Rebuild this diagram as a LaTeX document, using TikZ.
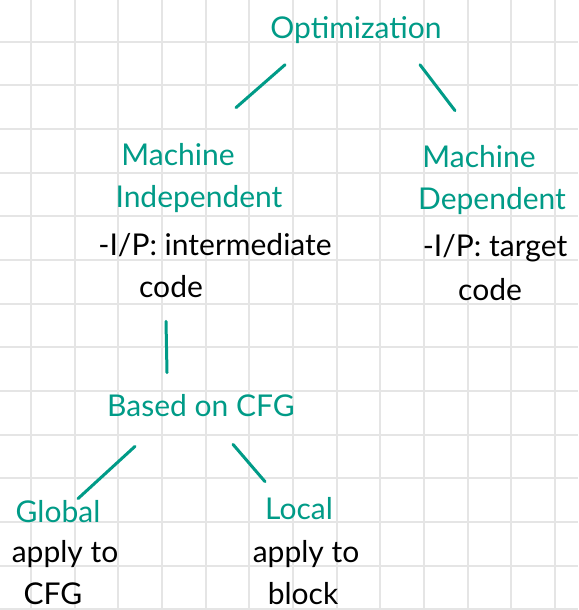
\documentclass[tikz,border=0pt]{standalone}
\usepackage{fontspec}
\setmainfont{Lato}
\usetikzlibrary{calc}
\definecolor{teal1}{RGB}{0,155,135}
\definecolor{gridc}{RGB}{229,229,229}
\tikzset{
  head/.style={text=teal1, inner sep=0pt, font=\fontsize{30}{32}\selectfont},
  body/.style={text=black, inner sep=0pt, font=\fontsize{30}{32}\selectfont},
  link/.style={draw=teal1, line width=3pt, line cap=round},
  gridline/.style={draw=gridc, line width=2pt}
}
\begin{document}
\begin{tikzpicture}[x=1pt,y=-1pt]
\useasboundingbox (0,0) rectangle (578,610);
\fill[white] (0,0) rectangle (578,610);
\foreach \i in {0,...,12} {\draw[gridline] ({31+43.65*\i},0) -- ({31+43.65*\i},610);}
\foreach \j in {0,...,13} {\draw[gridline] (0,{41.7+43.65*\j}) -- (578,{41.7+43.65*\j});}

\node[head] (opt) at (356,30) {Optimization};
\node[head] (mi1) at (178,155) {Machine};
\node[head] (mi2) at (199,199) {Independent};
\node[body] (mi3) at (215,245) {-I/P: intermediate};
\node[body] (mi4) at (171,287) {code};
\node[head] (md1) at (479,157) {Machine};
\node[head] (md2) at (492,201) {Dependent};
\node[body] (md3) at (495,248) {-I/P: target};
\node[body] (md4) at (490,290) {code};
\node[head] (cfg) at (201,406) {Based on CFG};
\node[head] (gl1) at (58,512) {Global};
\node[body] (gl2) at (65,554) {apply to};
\node[body] (gl3) at (53,594) {CFG};
\node[head] (lo1) at (299,509) {Local};
\node[body] (lo2) at (306,554) {apply to};
\node[body] (lo3) at (303,594) {block};

\draw[link] ($(opt.south)+(-71,21)$) -- ($(mi1.north)+(58,-36)$);
\draw[link] ($(opt.south)+(64,21)$) -- ($(md1.north)+(-24,-35)$);
\draw[link] ($(mi4.south)+(-5,23)$) -- ($(cfg.north)+(-34,-22)$);
\draw[link] ($(cfg.south)+(-66,29)$) -- ($(gl1.north)+(20,-2)$);
\draw[link] ($(cfg.south)+(32,27)$) -- ($(lo1.north)+(-34,-16)$);
\end{tikzpicture}
\end{document}
